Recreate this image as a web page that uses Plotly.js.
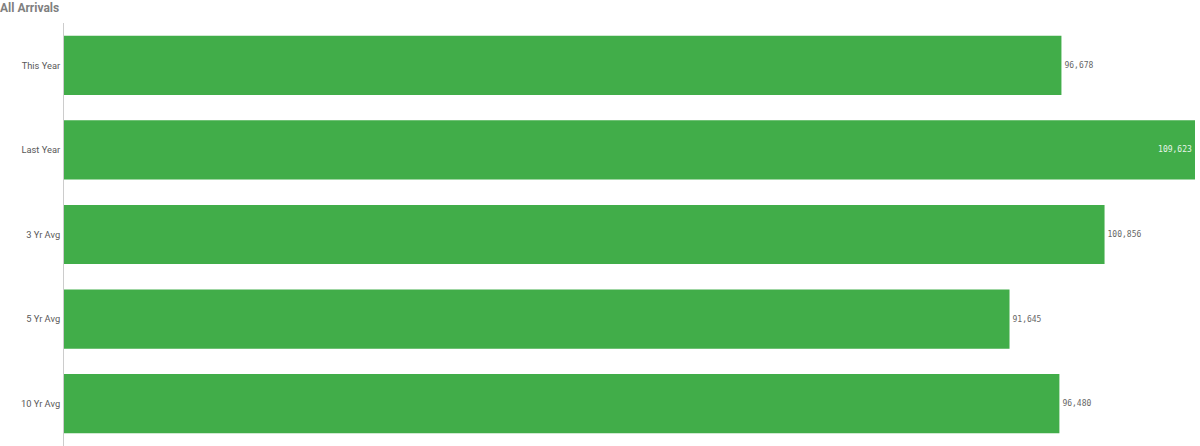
<!DOCTYPE html>
<html>
<head>
<meta charset="utf-8">
<script src="https://cdn.plot.ly/plotly-3.0.1.min.js"></script>
<style>
html,body{margin:0;padding:0;background:#fff;}
#chart{width:1200px;height:446px;}
</style>
</head>
<body>
<div id="chart"></div>
<script>
const categories = ["This Year", "Last Year", "3 Yr Avg", "5 Yr Avg", "10 Yr Avg"];
const arrivals = [96678, 109623, 100856, 91645, 96480];
const chartTitle = "All Arrivals";

const maxVal = Math.max(...arrivals);
const positions = arrivals.map(v => v === maxVal ? "inside" : "outside");
const labels = arrivals.map(v => v.toLocaleString("en-US"));
const labelColors = arrivals.map(v => v === maxVal ? "#e8f5e9" : "#666666");

const trace = {
  type: "bar",
  orientation: "h",
  y: categories,
  x: arrivals,
  text: labels,
  textposition: positions,
  insidetextanchor: "end",
  textfont: {family: "DejaVu Sans Mono, monospace", size: 8, color: labelColors},
  insidetextfont: {family: "DejaVu Sans Mono, monospace", size: 8, color: "#e8f5e9"},
  outsidetextfont: {family: "DejaVu Sans Mono, monospace", size: 8, color: "#666666"},
  marker: {color: "#41ad49", line: {width: 0}},
  cliponaxis: false,
  hoverinfo: "none"
};

const layout = {
  width: 1200,
  height: 446,
  margin: {l: 63.5, r: 5, t: 23, b: 0, pad: 0},
  paper_bgcolor: "#ffffff",
  plot_bgcolor: "#ffffff",
  bargap: 0.3,
  showlegend: false,
  title: {
    text: "<b>" + chartTitle + "</b>",
    x: 0, xref: "container", xanchor: "left",
    y: 0.983, yref: "container", yanchor: "middle", pad: {t: 0, l: 0},
    font: {family: "Roboto, Open Sans, sans-serif", size: 12, color: "#808080"}
  },
  xaxis: {
    range: [0, maxVal],
    showgrid: false, zeroline: false, showticklabels: false,
    showline: false, ticks: ""
  },
  yaxis: {
    type: "category",
    autorange: "reversed",
    showgrid: false, zeroline: false,
    showline: true, linecolor: "#cccccc", linewidth: 1,
    ticks: "", ticklabelstandoff: 1,
    tickfont: {family: "Roboto, Open Sans, sans-serif", size: 9.3, color: "#595959"}
  }
};

Plotly.newPlot("chart", [trace], layout, {staticPlot: true, displayModeBar: false});
</script>
</body>
</html>
